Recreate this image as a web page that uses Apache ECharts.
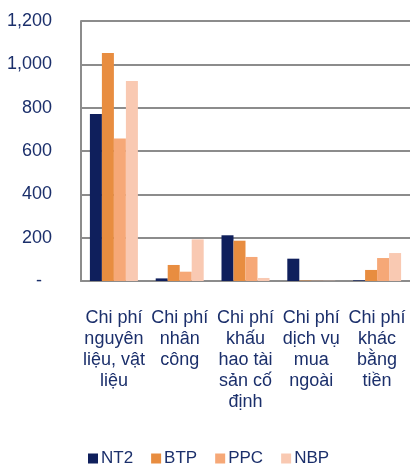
<!DOCTYPE html>
<html>
<head>
<meta charset="utf-8">
<script src="https://cdn.jsdelivr.net/npm/echarts@6/dist/echarts.min.js"></script>
<style>
html, body { margin: 0; padding: 0; background: #fff; }
#chart { width: 410px; height: 466px; }
</style>
</head>
<body>
<div id="chart"></div>
<script>
// categories (wrapped like the original)
var categories = [
    'Chi phí\nnguyên\nliệu, vật\nliệu',
    'Chi phí\nnhân\ncông',
    'Chi phí\nkhấu\nhao tài\nsản cố\nđịnh',
    'Chi phí\ndịch vụ\nmua\nngoài',
    'Chi phí\nkhác\nbằng\ntiền'
];
var nt2 = [771, 12, 211, 103, 3];
var btp = [1052, 74, 186, 2, 51];
var ppc = [658, 43, 111, 1, 106];
var nbp = [923, 192, 14, 1, 129];

var textColor = '#1b2f6b';

var myChart = echarts.init(document.getElementById('chart'));
var options = {
    animation: false,
    color: ['#0f1f5c', '#e88d40', '#f6a877', '#f9c9b2'],
    textStyle: { fontFamily: 'Liberation Sans, Arial, sans-serif' },
    grid: {
        left: 81,
        right: 0,
        top: 21,
        bottom: 185
    },
    legend: {
        top: 445,
        left: 83,
        itemWidth: 10,
        itemHeight: 10,
        itemGap: 18,
        icon: 'rect',
        textStyle: { color: textColor, fontSize: 17, padding: [0, 0, 0, -2] },
        data: ['NT2', 'BTP', 'PPC', 'NBP']
    },
    xAxis: [
        {
            type: 'category',
            data: categories,
            axisTick: { show: false },
            axisLine: { lineStyle: { color: '#8c8c8c', width: 2 } },
            axisLabel: {
                color: textColor,
                fontSize: 18,
                lineHeight: 21,
                margin: 27,
                interval: 0
            }
        }
    ],
    yAxis: [
        {
            type: 'value',
            min: 0,
            max: 1200,
            interval: 200,
            axisLine: { show: true, lineStyle: { color: '#8c8c8c', width: 2 } },
            axisTick: { show: false },
            splitLine: { lineStyle: { color: '#8c8c8c', width: 2 } },
            axisLabel: {
                color: textColor,
                fontSize: 18,
                margin: 29,
                formatter: function (v) {
                    if (v === 0) return '-  ';
                    return v.toLocaleString('en-US');
                }
            }
        }
    ],
    series: [
        { name: 'NT2', type: 'bar', data: nt2, barWidth: 12, barGap: '0%' },
        { name: 'BTP', type: 'bar', data: btp, barWidth: 12, barGap: '0%' },
        { name: 'PPC', type: 'bar', data: ppc, barWidth: 12, barGap: '0%' },
        { name: 'NBP', type: 'bar', data: nbp, barWidth: 12, barGap: '0%' }
    ]
};
myChart.setOption(options);
</script>
</body>
</html>
